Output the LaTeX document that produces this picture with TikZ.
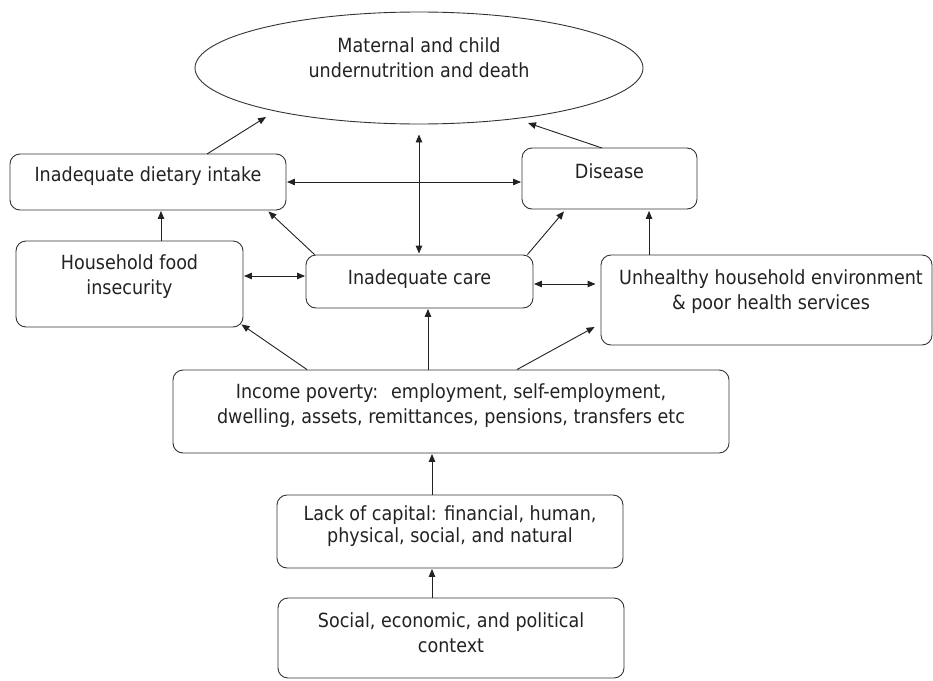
\documentclass[tikz,border=0pt]{standalone}
\usepackage{fontspec}
\setmainfont{DejaVu Sans}[FakeStretch=0.9]
\usetikzlibrary{arrows.meta,shapes.geometric,calc}
\definecolor{ink}{HTML}{222222}
\definecolor{edge}{HTML}{333333}
\tikzset{
  box/.style={draw=edge, line width=0.9pt, rounded corners=10pt, inner sep=0pt},
  txt/.style={font=\fontsize{19.5}{25}\selectfont, text=ink, align=center, inner sep=0pt},
  arr/.style={draw=ink, line width=0.9pt, -{Triangle[length=8pt,width=6.5pt]}},
  dbl/.style={draw=ink, line width=0.9pt, {Triangle[length=8pt,width=6.5pt]}-{Triangle[length=8pt,width=6.5pt]}}
}
\begin{document}
\begin{tikzpicture}[x=1pt,y=-1pt]
\useasboundingbox (0,0) rectangle (933,680);
% nodes
\node[draw=edge, line width=0.9pt, ellipse, minimum width=448pt, minimum height=112pt, inner sep=0pt] (ell) at (419,68) {};
\node[txt] (ellt) at (419,58) {Maternal and child\\undernutrition and death};

\node[box, minimum width=276pt, minimum height=56pt] (diet) at (148,182) {};
\node[txt] (dietT) at (148,176) {Inadequate dietary intake};

\node[box, minimum width=227pt, minimum height=86pt] (house) at (129.5,284) {};
\node[txt] (houseT) at (129.5,277) {Household food\\insecurity};

\node[box, minimum width=227pt, minimum height=53pt] (care) at (419.5,281.5) {};
\node[txt] (careT) at (419.5,279) {Inadequate care};

\node[box, minimum width=175pt, minimum height=61pt] (dis) at (609.5,178.5) {};
\node[txt] (disT) at (609.5,171) {Disease};

\node[box, minimum width=331pt, minimum height=90pt] (unh) at (766.5,300) {};
\node[txt] (unhT) at (771,292) {Unhealthy household environment\\\& poor health services};

\node[box, minimum width=556pt, minimum height=83pt] (inc) at (451,411.5) {};
\node[txt] (incT) at (451,406) {Income poverty:~ employment, self-employment,\\dwelling, assets, remittances, pensions, transfers etc};

\node[box, minimum width=346pt, minimum height=73pt] (lack) at (450,531.5) {};
\node[txt, font=\fontsize{19.5}{22}\selectfont] (lackT) at (450,526) {Lack of capital: financial, human,\\physical, social, and natural};

\node[box, minimum width=346pt, minimum height=80pt] (soc) at (451,638) {};
\node[txt] (socT) at (451,633) {Social, economic, and political\\context};

% connectors
\draw[arr] ([shift={(59,-28)}]diet.center) -- ([shift={(-153,49)}]ell.center);
\draw[arr] ([shift={(-7.5,-30.5)}]dis.center) -- ([shift={(109,55)}]ell.center);
\draw[dbl] ([yshift=-10pt]ell.south) -- ([yshift=1pt]ell.south |- care.north);
\draw[dbl, shorten <=0.5pt, shorten >=0.5pt] (diet.east) -- (diet.east -| dis.west);
\draw[arr, shorten >=0.5pt] ([xshift=31.5pt]house.north) -- ([xshift=31.5pt]house.north |- diet.south);
\draw[arr] ([xshift=9pt]care.north west) -- ([shift={(-18,1)}]diet.south east);
\draw[dbl, shorten <=0.5pt, shorten >=0.5pt] ([yshift=5.5pt]care.west -| house.east) -- ([yshift=5.5pt]care.west);
\draw[arr] ([xshift=-6pt]care.north east) -- ([shift={(-45.5,2)}]dis.south);
\draw[arr, shorten >=1.5pt] ([xshift=-117.5pt]unh.north) -- ([xshift=-117.5pt]unh.north |- dis.south);
\draw[dbl, shorten <=0.5pt, shorten >=5pt] ([yshift=-2.5pt]care.east) -- ([yshift=-2.5pt]care.east -| unh.west);
\draw[arr] ([xshift=-144pt]inc.north) -- ([shift={(-2,-3)}]house.south east);
\draw[arr, shorten >=0.5pt] ([xshift=-23pt]inc.north) -- ([xshift=-23pt]inc.north |- care.south);
\draw[arr] ([xshift=66pt]inc.north) -- ([shift={(-6,27)}]unh.west);
\draw[arr, shorten >=0.5pt] ([xshift=-18pt]lack.north) -- ([xshift=-18pt]lack.north |- inc.south);
\draw[arr, shorten >=0.5pt] ([xshift=-19pt]soc.north) -- ([xshift=-19pt]soc.north |- lack.south);
\end{tikzpicture}
\end{document}
